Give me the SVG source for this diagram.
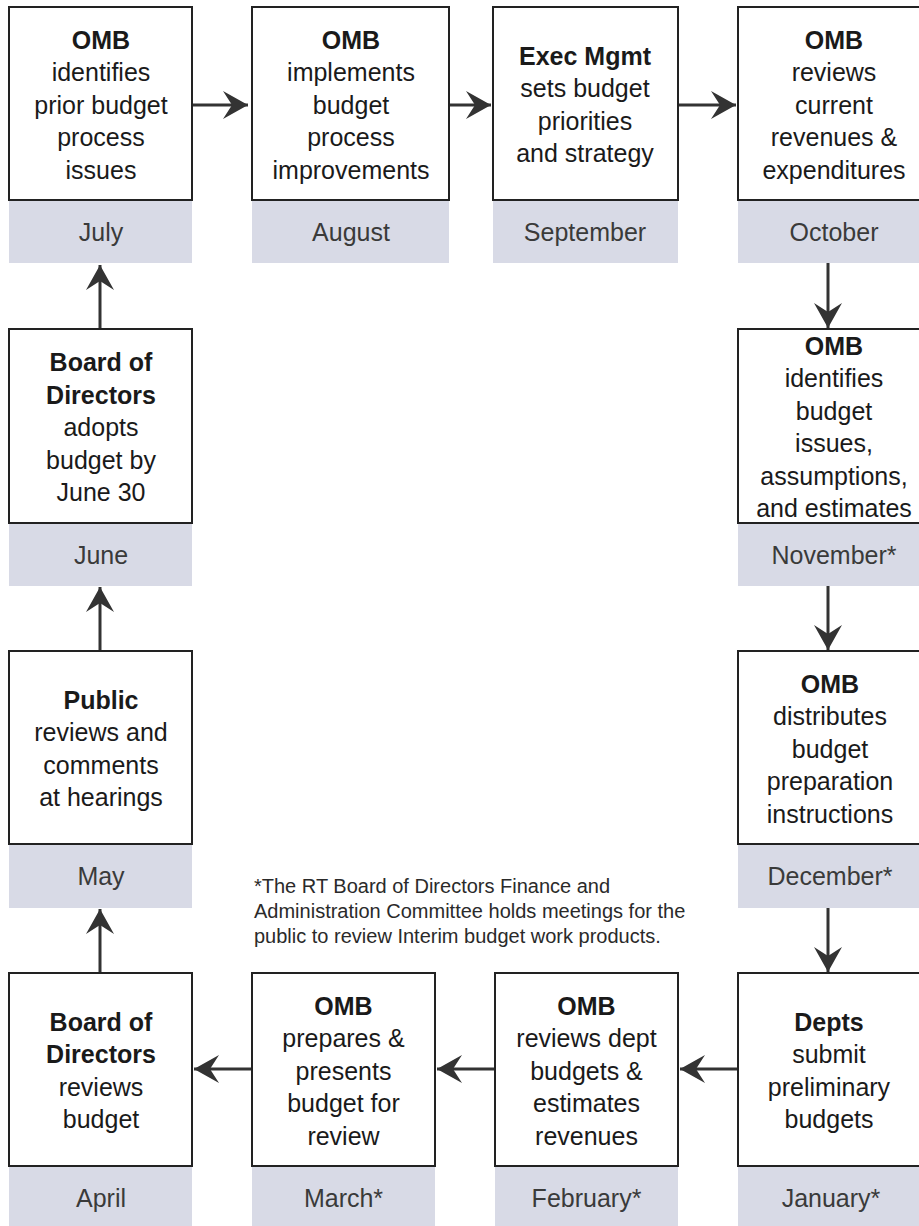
<svg xmlns="http://www.w3.org/2000/svg" width="919" height="1226" viewBox="0 0 919 1226">
<style>
.box{fill:#fff;stroke:#222;stroke-width:2}
.bar{fill:#d8dae6}
.t{font-family:"Liberation Sans",Arial,sans-serif;font-size:25px;fill:#1a1a1a;text-anchor:middle}
.b{font-weight:bold}
.m{font-family:"Liberation Sans",Arial,sans-serif;font-size:25px;fill:#3a3a3a;text-anchor:middle}
.note{font-family:"Liberation Sans",Arial,sans-serif;font-size:20px;fill:#2a2a2a}
.c{stroke:#333;stroke-width:3;fill:none;marker-end:url(#ah)}
</style>
<defs>
<marker id="ah" markerUnits="userSpaceOnUse" markerWidth="30" markerHeight="32" viewBox="-27 -16 30 32" refX="0" refY="0" orient="auto">
<path d="M0,0 L-25,-14 L-16,0 L-25,14 Z" fill="#333"/>
</marker>
</defs>
<rect width="919" height="1226" fill="#fff"/>

<g id="connectors">
<line class="c" x1="192" y1="105" x2="248" y2="105"/>
<line class="c" x1="449" y1="105" x2="491" y2="105"/>
<line class="c" x1="678" y1="105" x2="736" y2="105"/>
<line class="c" x1="828" y1="263" x2="828" y2="328"/>
<line class="c" x1="828" y1="586" x2="828" y2="650"/>
<line class="c" x1="828" y1="908" x2="828" y2="972"/>
<line class="c" x1="738" y1="1069" x2="680" y2="1069"/>
<line class="c" x1="495" y1="1069" x2="437" y2="1069"/>
<line class="c" x1="252" y1="1069" x2="194" y2="1069"/>
<line class="c" x1="100" y1="973" x2="100" y2="909"/>
<line class="c" x1="100" y1="651" x2="100" y2="587"/>
<line class="c" x1="100" y1="329" x2="100" y2="265"/>
</g>

<g id="july">
<rect class="box" x="9" y="7" width="183" height="193"/>
<rect class="bar" x="9" y="201" width="183" height="62"/>
<text class="t b" x="101" y="48.5">OMB</text>
<text class="t" x="101" y="81">identifies</text>
<text class="t" x="101" y="113.5">prior budget</text>
<text class="t" x="101" y="146">process</text>
<text class="t" x="101" y="178.5">issues</text>
<text class="m" x="101" y="240.5">July</text>
</g>

<g id="august">
<rect class="box" x="252" y="7" width="197" height="193"/>
<rect class="bar" x="252" y="201" width="197" height="62"/>
<text class="t b" x="351" y="48.5">OMB</text>
<text class="t" x="351" y="81">implements</text>
<text class="t" x="351" y="113.5">budget</text>
<text class="t" x="351" y="146">process</text>
<text class="t" x="351" y="178.5">improvements</text>
<text class="m" x="351" y="240.5">August</text>
</g>

<g id="september">
<rect class="box" x="493" y="7" width="185" height="193"/>
<rect class="bar" x="493" y="201" width="185" height="62"/>
<text class="t b" x="585" y="64.75">Exec Mgmt</text>
<text class="t" x="585" y="97.25">sets budget</text>
<text class="t" x="585" y="129.75">priorities</text>
<text class="t" x="585" y="162.25">and strategy</text>
<text class="m" x="585" y="240.5">September</text>
</g>

<g id="october">
<rect class="box" x="738" y="7" width="202" height="193"/>
<rect class="bar" x="738" y="201" width="202" height="62"/>
<text class="t b" x="834" y="48.5">OMB</text>
<text class="t" x="834" y="81">reviews</text>
<text class="t" x="834" y="113.5">current</text>
<text class="t" x="834" y="146">revenues &amp;</text>
<text class="t" x="834" y="178.5">expenditures</text>
<text class="m" x="834" y="240.5">October</text>
</g>

<g id="november">
<rect class="box" x="738" y="329" width="202" height="194"/>
<rect class="bar" x="738" y="524" width="202" height="62"/>
<text class="t b" x="834" y="354.75">OMB</text>
<text class="t" x="834" y="387.25">identifies</text>
<text class="t" x="834" y="419.75">budget</text>
<text class="t" x="834" y="452.25">issues,</text>
<text class="t" x="834" y="484.75">assumptions,</text>
<text class="t" x="834" y="517.25">and estimates</text>
<text class="m" x="834" y="563.5">November*</text>
</g>

<g id="december">
<rect class="box" x="738" y="651" width="202" height="193"/>
<rect class="bar" x="738" y="845" width="202" height="63"/>
<text class="t b" x="830" y="692.5">OMB</text>
<text class="t" x="830" y="725">distributes</text>
<text class="t" x="830" y="757.5">budget</text>
<text class="t" x="830" y="790">preparation</text>
<text class="t" x="830" y="822.5">instructions</text>
<text class="m" x="830" y="885">December*</text>
</g>

<g id="january">
<rect class="box" x="738" y="973" width="202" height="193"/>
<rect class="bar" x="738" y="1167" width="202" height="62"/>
<text class="t b" x="829" y="1030.75">Depts</text>
<text class="t" x="829" y="1063.25">submit</text>
<text class="t" x="829" y="1095.75">preliminary</text>
<text class="t" x="829" y="1128.25">budgets</text>
<text class="m" x="831" y="1207">January*</text>
</g>

<g id="february">
<rect class="box" x="495" y="973" width="183" height="193"/>
<rect class="bar" x="495" y="1167" width="183" height="62"/>
<text class="t b" x="586.5" y="1014.5">OMB</text>
<text class="t" x="586.5" y="1047">reviews dept</text>
<text class="t" x="586.5" y="1079.5">budgets &amp;</text>
<text class="t" x="586.5" y="1112">estimates</text>
<text class="t" x="586.5" y="1144.5">revenues</text>
<text class="m" x="586.5" y="1207">February*</text>
</g>

<g id="march">
<rect class="box" x="252" y="973" width="183" height="193"/>
<rect class="bar" x="252" y="1167" width="183" height="62"/>
<text class="t b" x="343.5" y="1014.5">OMB</text>
<text class="t" x="343.5" y="1047">prepares &amp;</text>
<text class="t" x="343.5" y="1079.5">presents</text>
<text class="t" x="343.5" y="1112">budget for</text>
<text class="t" x="343.5" y="1144.5">review</text>
<text class="m" x="343.5" y="1207">March*</text>
</g>

<g id="april">
<rect class="box" x="9" y="973" width="183" height="193"/>
<rect class="bar" x="9" y="1167" width="183" height="62"/>
<text class="t b" x="101" y="1030.75">Board of</text>
<text class="t b" x="101" y="1063.25">Directors</text>
<text class="t" x="101" y="1095.75">reviews</text>
<text class="t" x="101" y="1128.25">budget</text>
<text class="m" x="101" y="1207">April</text>
</g>

<g id="may">
<rect class="box" x="9" y="651" width="183" height="193"/>
<rect class="bar" x="9" y="845" width="183" height="63"/>
<text class="t b" x="101" y="708.75">Public</text>
<text class="t" x="101" y="741.25">reviews and</text>
<text class="t" x="101" y="773.75">comments</text>
<text class="t" x="101" y="806.25">at hearings</text>
<text class="m" x="101" y="885">May</text>
</g>

<g id="june">
<rect class="box" x="9" y="329" width="183" height="194"/>
<rect class="bar" x="9" y="524" width="183" height="62"/>
<text class="t b" x="101" y="371">Board of</text>
<text class="t b" x="101" y="403.5">Directors</text>
<text class="t" x="101" y="436">adopts</text>
<text class="t" x="101" y="468.5">budget by</text>
<text class="t" x="101" y="501">June 30</text>
<text class="m" x="101" y="563.5">June</text>
</g>

<g id="footnote">
<text class="note" x="254" y="893">*The RT Board of Directors Finance and</text>
<text class="note" x="254" y="918">Administration Committee holds meetings for the</text>
<text class="note" x="254" y="943">public to review Interim budget work products.</text>
</g>
</svg>
